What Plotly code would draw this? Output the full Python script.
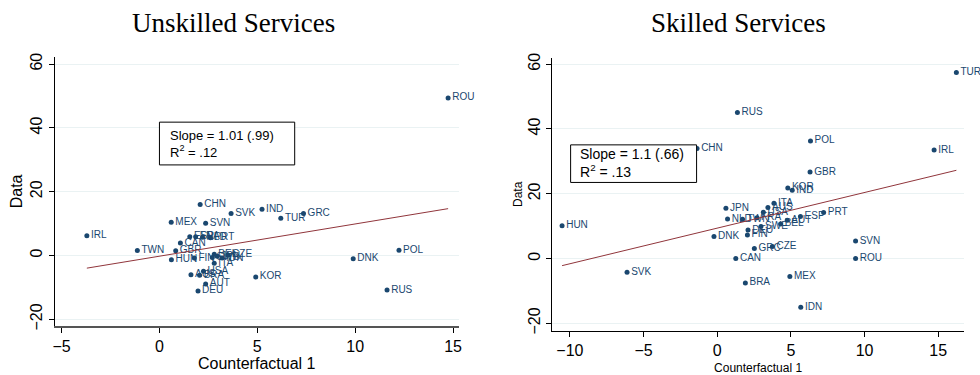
import plotly.graph_objects as go

# Unskilled services: counterfactual vs data, by country
unsk_codes = ["IRL", "TWN", "GBR", "CAN", "HUN", "MEX", "CHN", "SVN", "SVK", "IND",
              "TUR", "GRC", "ESP", "FRA", "NLD", "PRT", "FIN", "BEL", "CZE", "SWE",
              "JPN", "IDN", "ITA", "AUS", "BRA", "USA", "KOR", "AUT", "DEU", "ROU",
              "POL", "DNK", "RUS"]
unsk_cf = [-3.71, -1.13, 0.83, 1.07, 0.61, 0.60, 2.08, 2.36, 3.66, 5.24,
           6.20, 7.36, 1.55, 1.85, 2.20, 2.60, 1.78, 2.80, 3.50, 2.70,
           2.95, 3.20, 2.80, 1.61, 2.05, 2.25, 4.92, 2.36, 1.97, 14.75,
           12.24, 9.90, 11.63]
unsk_data = [6.2, 1.6, 1.5, 3.9, -1.3, 10.4, 16.0, 10.1, 13.2, 14.5,
             11.7, 13.2, 5.9, 5.9, 5.7, 5.6, -0.8, 0.4, 0.2, -0.6,
             -0.2, -0.8, -2.4, -6.0, -6.2, -4.9, -6.7, -8.9, -11.1, 49.4,
             1.7, -1.0, -10.8]
unsk_slope, unsk_se, unsk_r2, unsk_icept = 1.01, 0.99, 0.12, -0.2

# Skilled services
sk_codes = ["TUR", "RUS", "POL", "IRL", "CHN", "GBR", "KOR", "IND", "JPN", "ITA",
            "AUS", "USA", "FRA", "NLD", "TWN", "SWE", "BEL", "AUT", "ESP", "PRT",
            "HUN", "DNK", "DEU", "FIN", "GRC", "CZE", "CAN", "SVK", "BRA", "MEX",
            "SVN", "ROU", "IDN"]
sk_cf = [16.23, 1.37, 6.33, 14.72, -1.37, 6.30, 4.79, 5.09, 0.59, 3.85,
         3.44, 3.13, 2.70, 0.70, 1.72, 2.97, 4.30, 4.75, 5.65, 7.22,
         -10.53, -0.22, 2.09, 2.05, 2.52, 3.74, 1.26, -6.12, 1.91, 4.93,
         9.39, 9.39, 5.67]
sk_data = [57.4, 45.1, 36.3, 33.5, 34.0, 26.7, 21.8, 21.1, 15.5, 17.1,
           15.8, 14.3, 12.6, 12.2, 12.1, 9.9, 10.7, 11.8, 13.0, 14.2,
           10.1, 6.8, 8.8, 7.3, 3.1, 3.7, 0.0, -4.2, -7.5, -5.5,
           5.4, 0.0, -15.0]
sk_slope, sk_se, sk_r2, sk_icept = 1.1, 0.66, 0.13, 9.4

x_ticks_left = [-5, 0, 5, 10, 15]
x_ticks_right = [-10, -5, 0, 5, 10, 15]
y_ticks = [-20, 0, 20, 40, 60]

NAVY = "#1a476f"
MAROON = "#90353b"
SANS = "Liberation Sans, Arial, sans-serif"
SERIF = "Liberation Serif, Times New Roman, serif"


def fmt_coef(v):
    s = f"{v:.2f}".rstrip("0").rstrip(".")
    return s[1:] if s.startswith("0.") else s


fig = go.Figure()

for codes, xs, ys, xa, ya in [(unsk_codes, unsk_cf, unsk_data, "x", "y"),
                              (sk_codes, sk_cf, sk_data, "x2", "y2")]:
    fig.add_trace(go.Scatter(
        x=xs, y=ys, text=codes, mode="markers+text",
        textposition="middle right",
        marker=dict(color=NAVY, size=5),
        textfont=dict(family=SANS, size=10, color=NAVY),
        cliponaxis=False, xaxis=xa, yaxis=ya, showlegend=False))

for xs, slope, icept, xa, ya in [(unsk_cf, unsk_slope, unsk_icept, "x", "y"),
                                 (sk_cf, sk_slope, sk_icept, "x2", "y2")]:
    lo, hi = min(xs), max(xs)
    fig.add_trace(go.Scatter(
        x=[lo, hi], y=[icept + slope * lo, icept + slope * hi],
        mode="lines", line=dict(color=MAROON, width=1),
        xaxis=xa, yaxis=ya, showlegend=False))

axis_common = dict(showgrid=False, zeroline=False, showline=True, ticks="outside",
                   ticklen=5, tickcolor="#000", linecolor="#000", linewidth=1,
                   tickfont=dict(family=SANS, size=16, color="#000"))
yaxis_common = dict(axis_common, showgrid=True, gridcolor="#eaf2f3", gridwidth=1,
                    tickangle=-90, tickvals=y_ticks)

fig.update_layout(
    width=980, height=375,
    margin=dict(l=0, r=0, t=0, b=0),
    paper_bgcolor="white", plot_bgcolor="white",
    xaxis=dict(axis_common, domain=[0.0541, 0.4684], range=[-5.35, 15.29],
               tickvals=x_ticks_left, linecolor="#555", linewidth=2,
               anchor="y",
               title=dict(text="Counterfactual 1", standoff=4,
                          font=dict(family=SANS, size=16, color="#000"))),
    yaxis=dict(yaxis_common, domain=[0.1227, 0.8587], range=[-22.1, 62.3],
               anchor="x",
               title=dict(text="Data", standoff=1,
                          font=dict(family=SANS, size=16, color="#000"))),
    xaxis2=dict(axis_common, domain=[0.5643, 0.9867], range=[-11.2, 16.75],
                tickvals=x_ticks_right, anchor="y2",
                title=dict(text="Counterfactual 1", standoff=6,
                           font=dict(family=SANS, size=12, color="#000"))),
    yaxis2=dict(yaxis_common, domain=[0.1093, 0.856], range=[-22.35, 62.0],
                anchor="x2",
                title=dict(text="Data", standoff=0,
                           font=dict(family=SANS, size=12, color="#000"))),
)

# statistic boxes
fig.add_shape(type="rect", xref="x", yref="y", x0=0.0, x1=6.91, y0=28.4, y1=41.8,
              line=dict(color="#000", width=1), fillcolor="white", layer="above")
fig.add_shape(type="rect", xref="x2", yref="y2", x0=-9.95, x1=-1.4, y0=23.5, y1=35.1,
              line=dict(color="#000", width=1), fillcolor="white", layer="above")

fig.add_annotation(xref="x", yref="y", x=0.43, y=35.1, xanchor="left", yanchor="middle",
                   align="left", showarrow=False,
                   text=f"Slope = {fmt_coef(unsk_slope)} ({fmt_coef(unsk_se)})<br>"
                        f"R<sup>2</sup> = {fmt_coef(unsk_r2)}",
                   font=dict(family=SANS, size=13, color="#000"))
fig.add_annotation(xref="x2", yref="y2", x=-9.45, y=29.6, xanchor="left", yanchor="middle",
                   align="left", showarrow=False,
                   text=f"Slope = {fmt_coef(sk_slope)} ({fmt_coef(sk_se)})<br>"
                        f"R<sup>2</sup> = {fmt_coef(sk_r2)}",
                   font=dict(family=SANS, size=14, color="#000"))

# panel titles
fig.add_annotation(xref="paper", yref="paper", x=233 / 980, y=1 - 18 / 375,
                   xanchor="center", yanchor="middle", showarrow=False,
                   text="Unskilled Services",
                   font=dict(family=SERIF, size=27, color="#000"))
fig.add_annotation(xref="paper", yref="paper", x=740 / 980, y=1 - 18 / 375,
                   xanchor="center", yanchor="middle", showarrow=False,
                   text="Skilled Services",
                   font=dict(family=SERIF, size=27, color="#000"))

fig.write_html("out.html")
